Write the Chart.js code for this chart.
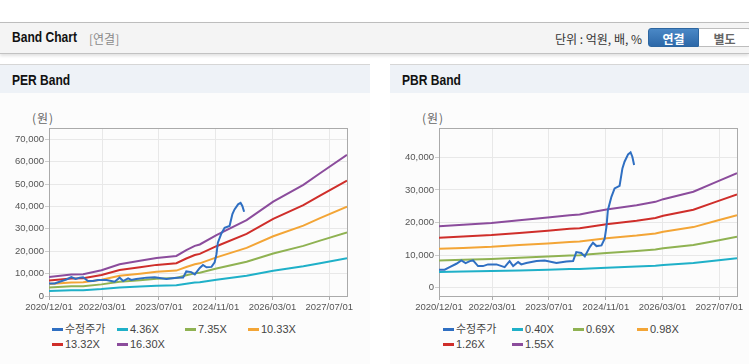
<!DOCTYPE html>
<html>
<head>
<meta charset="utf-8">
<script src="https://cdn.jsdelivr.net/npm/chart.js@4.4.1/dist/chart.umd.min.js"></script>
<style>
  body { margin: 0; background: #fff; font-family: "Liberation Sans", "Noto Sans CJK KR", sans-serif; }
  #page { position: relative; width: 749px; height: 364px; overflow: hidden; }
  .topbar { position: absolute; left: 0; top: 22px; width: 749px; height: 30px; background: #f4f4f4;
            border-top: 1px solid #bdbdbd; border-bottom: 1px solid #c2c2c2; box-shadow: 0 2px 3px rgba(0,0,0,0.12); }
  .bold-title { font: bold 14px "Liberation Sans", sans-serif; color: #111; transform: scaleX(0.86); transform-origin: left center; }
  .topbar .title { position: absolute; left: 12px; top: 6px; }
  .topbar .sub { position: absolute; left: 89px; top: 7px; font-size: 12px; color: #8a8a8a; font-family: "Noto Sans CJK KR", sans-serif; }
  .topbar .unit { position: absolute; right: 107px; top: 7px; font-size: 12px; color: #333; font-family: "Noto Sans CJK KR", sans-serif; }
  .btn { position: absolute; top: 5px; height: 19px; width: 51px; font: bold 12px "Noto Sans CJK KR", sans-serif; text-align: center; line-height: 19px; box-sizing: border-box; }
  .btn.on { left: 648px; background: linear-gradient(#4a88c6, #2d68a8); color: #fff; border: 1px solid #2d66a0; border-radius: 3px 0 0 3px; }
  .btn.off { left: 699px; background: #fff; color: #666; border: 1px solid #bdbdbd; border-left: none; border-radius: 0 3px 3px 0; width: 52px; }
  .panel { position: absolute; top: 64px; height: 299px; background: #fcfcfc; border-top: 1px solid #d6d6d6; border-bottom: 1px solid #d6d6d6; }
  .panel .head { height: 28px; background: #eef2f7; }
  .panel .head span { position: absolute; left: 12px; top: 7px; }
  .unitlabel { position: absolute; font-size: 12px; color: #666; letter-spacing: 1px; font-family: "Noto Sans CJK KR", sans-serif; }
  canvas { position: absolute; }
  .lg { position: absolute; font-size: 11px; color: #444; white-space: nowrap; line-height: 14px; }
  .lg i { display: inline-block; width: 11px; height: 3px; vertical-align: middle; margin-right: 2px; margin-top: -2px; }
</style>
</head>
<body>
<div id="page">
  <div class="topbar">
    <span class="title bold-title">Band Chart</span>
    <span class="sub">[연결]</span>
    <span class="unit">단위 : 억원, 배, %</span>
    <span class="btn on">연결</span>
    <span class="btn off">별도</span>
  </div>
  <div class="panel" style="left:0;width:370px;"><div class="head"><span class="bold-title">PER Band</span></div></div>
  <div class="panel" style="left:390px;width:359px;"><div class="head"><span class="bold-title">PBR Band</span></div></div>
  <span class="unitlabel" style="left:32px;top:109px;">(원)</span>
  <span class="unitlabel" style="left:422px;top:109px;">(원)</span>
  <canvas id="perChart" width="370" height="210" style="left:0;top:110px;"></canvas>
  <canvas id="pbrChart" width="359" height="210" style="left:390px;top:110px;"></canvas>
  <div id="perLegend"></div>
  <div id="pbrLegend"></div>
</div>
<script>
// 축 눈금 라벨
const xTickLabels = ['2020/12/01', '2022/03/01', '2023/07/01', '2024/11/01', '2026/03/01', '2027/07/01'];
const xEnd = '2027/12/01';

// 수정주가
const priceDates = ['2020/12/01', '2021/01/19', '2021/03/01', '2021/04/28', '2021/06/10', '2021/07/16', '2021/08/22',
    '2021/09/19', '2021/11/01', '2021/12/13', '2022/01/25', '2022/04/07', '2022/06/16', '2022/07/28', '2022/08/28',
    '2022/10/10', '2022/11/07', '2022/12/19', '2023/03/16', '2023/05/25', '2023/09/04', '2023/11/28', '2024/01/25',
    '2024/02/22', '2024/04/04', '2024/05/04', '2024/06/16', '2024/07/13', '2024/08/13', '2024/09/25', '2024/10/22',
    '2024/11/07', '2024/11/19', '2024/12/19', '2025/01/16', '2025/02/28', '2025/03/22', '2025/04/10', '2025/05/10',
    '2025/06/01', '2025/06/16', '2025/07/01'];
const priceValues = [5540, 5570, 6360, 7380, 8400, 7590, 8200,
    8400, 6670, 6670, 7180, 7180, 6360, 8200, 6670,
    7900, 7180, 7590, 8200, 8400, 7590, 8100, 8200,
    10970, 10670, 9640, 12500, 13850, 12800, 13000, 15070,
    18660, 23800, 27900, 30460, 31280, 36600, 38670, 40920,
    41540, 40200, 37640];

// PER 밴드: EPS 기준값과 배수
const perMultiples = [4.36, 7.35, 10.33, 13.32, 16.30];
const perBaseDates = ['2020/12/01', '2021/06/10', '2021/09/20', '2022/02/25', '2022/07/28', '2023/01/20', '2023/06/10',
    '2023/11/28', '2024/02/22', '2024/05/04', '2024/06/16', '2024/11/07', '2025/07/22', '2026/03/07', '2026/11/22',
    '2027/04/13', '2027/12/01'];
const perEps = [520, 588, 596, 706, 871, 963, 1043, 1098, 1256, 1374, 1411, 1669, 2080, 2583, 3043, 3362, 3865];

// PBR 밴드: BPS 기준값과 배수
const pbrMultiples = [0.40, 0.69, 0.98, 1.26, 1.55];
const pbrBaseDates = ['2020/12/01', '2021/06/25', '2022/02/25', '2022/10/20', '2023/06/20', '2023/12/25', '2024/03/20',
    '2024/06/16', '2024/11/07', '2025/07/22', '2026/01/01', '2026/03/07', '2026/11/22', '2027/06/07', '2027/12/01'];
const pbrBps = [12200, 12500, 12840, 13370, 13900, 14360, 14490, 14890, 15480, 16340, 17010, 17540, 19000, 20970, 22700];

const bandColors = ['#1fb0c8', '#8fb252', '#f3a536', '#cf2e2a', '#8b4c9c'];
const priceColor = '#2f6fc2';

// 날짜 -> 2020/12/01 기준 월 인덱스
function monthIndex(s) {
    const [y, m, d] = s.split('/').map(Number);
    return (y - 2020) * 12 + (m - 12) + (d - 1) / 30;
}

function buildDatasets(multiples, baseDates, baseValues) {
    const sets = [{
        label: '수정주가',
        data: priceDates.map((d, i) => ({ x: monthIndex(d), y: priceValues[i] })),
        borderColor: priceColor
    }];
    multiples.forEach((k, j) => {
        sets.push({
            label: k.toFixed(2) + 'X',
            data: baseDates.map((d, i) => ({ x: monthIndex(d), y: Math.round(baseValues[i] * k) })),
            borderColor: bandColors[j]
        });
    });
    sets.forEach(s => { s.borderWidth = 2; s.pointRadius = 0; s.tension = 0; s.fill = false; });
    return sets;
}

// 플롯 영역 테두리
const frame = {
    id: 'frame',
    beforeDatasetsDraw(chart) {
        const a = chart.chartArea, ctx = chart.ctx;
        ctx.save();
        ctx.strokeStyle = '#aaaaaa';
        ctx.lineWidth = 1;
        ctx.strokeRect(Math.round(a.left) + 0.5, Math.round(a.top) + 0.5, Math.round(a.right - a.left), Math.round(a.bottom - a.top));
        ctx.restore();
    }
};

function makeChart(id, datasets, yMin, yMax, yTicks, padRight) {
    const tickFont = { family: '"Liberation Sans", sans-serif', size: 9.5 };
    return new Chart(document.getElementById(id), {
        type: 'line',
        data: { datasets: datasets },
        options: {
            responsive: false,
            animation: false,
            layout: { padding: { top: 18, right: padRight, left: 0, bottom: 0 } },
            plugins: { legend: { display: false }, tooltip: { enabled: false } },
            scales: {
                x: {
                    type: 'linear',
                    min: 0,
                    max: monthIndex(xEnd),
                    afterBuildTicks: s => { s.ticks = xTickLabels.map(t => ({ value: monthIndex(t) })); },
                    afterFit: s => { s.height = 24; },
                    ticks: {
                        autoSkip: false, maxRotation: 0, padding: 2, color: '#555', font: tickFont,
                        callback: v => xTickLabels.find(t => Math.abs(monthIndex(t) - v) < 0.01) || ''
                    },
                    grid: { color: '#e8e8e8', tickColor: '#aaaaaa', tickLength: 4 },
                    border: { display: false }
                },
                y: {
                    min: yMin,
                    max: yMax,
                    afterBuildTicks: s => { s.ticks = yTicks.map(v => ({ value: v })); },
                    afterFit: s => { s.width = 49; },
                    ticks: { padding: 1, color: '#555', font: tickFont, callback: v => v.toLocaleString('en-US') },
                    grid: { color: '#e8e8e8', tickColor: '#cccccc', tickLength: 4 },
                    border: { display: false }
                }
            }
        },
        plugins: [frame]
    });
}

function htmlLegend(elId, chart, cols, left) {
    const el = document.getElementById(elId);
    chart.data.datasets.forEach((ds, i) => {
        const item = document.createElement('div');
        item.className = 'lg';
        item.style.left = (left + cols[i % 4]) + 'px';
        item.style.top = (322 + Math.floor(i / 4) * 15) + 'px';
        item.innerHTML = '<i style="background:' + ds.borderColor + '"></i>' + ds.label;
        el.appendChild(item);
    });
}

const yTicksPer = [0, 10000, 20000, 30000, 40000, 50000, 60000, 70000];
const yTicksPbr = [0, 10000, 20000, 30000, 40000];

const perChart = makeChart('perChart', buildDatasets(perMultiples, perBaseDates, perEps), 0, 75000, yTicksPer, 23);
const pbrChart = makeChart('pbrChart', buildDatasets(pbrMultiples, pbrBaseDates, pbrBps), -2500, 49000, yTicksPbr, 12);

htmlLegend('perLegend', perChart, [52, 117, 185, 248], 0);
htmlLegend('pbrLegend', pbrChart, [53, 122, 183, 247], 390);
</script>
</body>
</html>
